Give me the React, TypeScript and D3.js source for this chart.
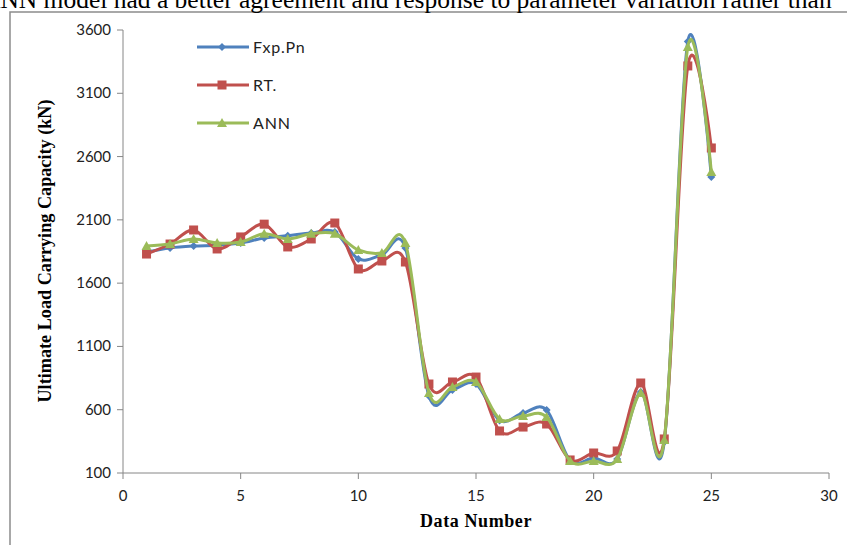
import React from "react";
import * as d3 from "d3";

const dataNumbers = [1,2,3,4,5,6,7,8,9,10,11,12,13,14,15,16,17,18,19,20,21,22,23,24,25];
const expPn = [1846,1878,1893,1900,1917,1957,1975,1996,2004,1791,1823,1878,708,756,803,515,574,598,200,218,210,740,345,3510,2439];
const rtVals = [1830,1909,2020,1870,1965,2066,1886,1949,2075,1712,1775,1767,803,819,858,432,463,487,203,258,274,811,369,3316,2668];
const annVals = [1893,1909,1949,1917,1925,1990,1949,1990,1990,1862,1838,1917,732,780,819,527,550,542,195,195,210,732,361,3466,2478];
const yTicks = [100,600,1100,1600,2100,2600,3100,3600];
const xTicks = [0,5,10,15,20,25,30];
const seriesNames = ["Fxp.Pn","RT.","ANN"];
const colors = ["#4F81BD","#C0504D","#9BBB59"];

const W = 847, H = 545;
const x = d3.scaleLinear().domain([0,30]).range([123,829]);
const y = d3.scaleLinear().domain([100,3600]).range([473,30]);

function marker(kind: number, cx: number, cy: number, color: string, key: any) {
  if (kind === 0) {
    const s = 4;
    return <path key={key} d={`M${cx},${cy-s}L${cx+s},${cy}L${cx},${cy+s}L${cx-s},${cy}Z`} fill={color} />;
  }
  if (kind === 1) {
    const s = 4.5;
    return <rect key={key} x={cx-s} y={cy-s} width={2*s} height={2*s} fill={color} />;
  }
  const s = 5;
  return <path key={key} d={`M${cx},${cy-s}L${cx+s},${cy+s*0.8}L${cx-s},${cy+s*0.8}Z`} fill={color} />;
}

export default function App() {
  const series = [expPn, rtVals, annVals];
  const line = d3.line<number>()
    .x((_, i) => x(dataNumbers[i]))
    .y((d) => y(d))
    .curve(d3.curveCardinal.tension(0));
  const font = "Lato, 'Open Sans', sans-serif";
  return (
    <svg width={W} height={H} style={{ position: "absolute", left: 0, top: 0, background: "#fff" }}>
      <rect x={10} y={12} width={W + 20} height={H + 20} fill="#fff" stroke="#8c8c8c" strokeWidth={1.5} />
      <text x={-18} y={8} fontFamily="'Liberation Serif', serif" fontSize={25.5} fill="#000">
        ANN model had a better agreement and response to parameter variation rather than
      </text>
      {/* axes */}
      <line x1={x(0)} x2={x(0)} y1={y(3600)} y2={y(100)} stroke="#868686" strokeWidth={1} />
      <line x1={x(0)} x2={x(30)} y1={y(100)} y2={y(100)} stroke="#868686" strokeWidth={1} />
      {yTicks.map((t) => (
        <g key={"y" + t}>
          <line x1={x(0) - 6} x2={x(0)} y1={y(t)} y2={y(t)} stroke="#868686" />
          <text x={x(0) - 12} y={y(t) + 5} textAnchor="end" fontFamily={font} fontSize={15} fill="#222">{t}</text>
        </g>
      ))}
      {xTicks.map((t) => (
        <g key={"x" + t}>
          <line x1={x(t)} x2={x(t)} y1={y(100)} y2={y(100) + 6} stroke="#868686" />
          <text x={x(t)} y={y(100) + 28} textAnchor="middle" fontFamily={font} fontSize={15} fill="#222">{t}</text>
        </g>
      ))}
      <text x={476} y={527} textAnchor="middle" fontFamily="'Liberation Serif', serif" fontWeight="bold" fontSize={18} letterSpacing={0.6} fill="#000">Data Number</text>
      <text transform={`translate(51,251) rotate(-90)`} textAnchor="middle" fontFamily="'Liberation Serif', serif" fontWeight="bold" fontSize={18.2} fill="#000">Ultimate Load Carrying Capacity (kN)</text>
      {/* series */}
      {series.map((s, k) => (
        <g key={"s" + k}>
          <path d={line(s) || ""} fill="none" stroke={colors[k]} strokeWidth={3} />
          {s.map((v, i) => marker(k, x(dataNumbers[i]), y(v), colors[k], i))}
        </g>
      ))}
      {/* legend */}
      {seriesNames.map((n, k) => (
        <g key={"l" + k}>
          <line x1={197} x2={249} y1={47 + k * 38} y2={47 + k * 38} stroke={colors[k]} strokeWidth={3} />
          {marker(k, 222, 47 + k * 38, colors[k], "m")}
          <text x={253} y={53 + k * 38} fontFamily={font} fontSize={16} letterSpacing={0.8} fill="#222">{n}</text>
        </g>
      ))}
    </svg>
  );
}
